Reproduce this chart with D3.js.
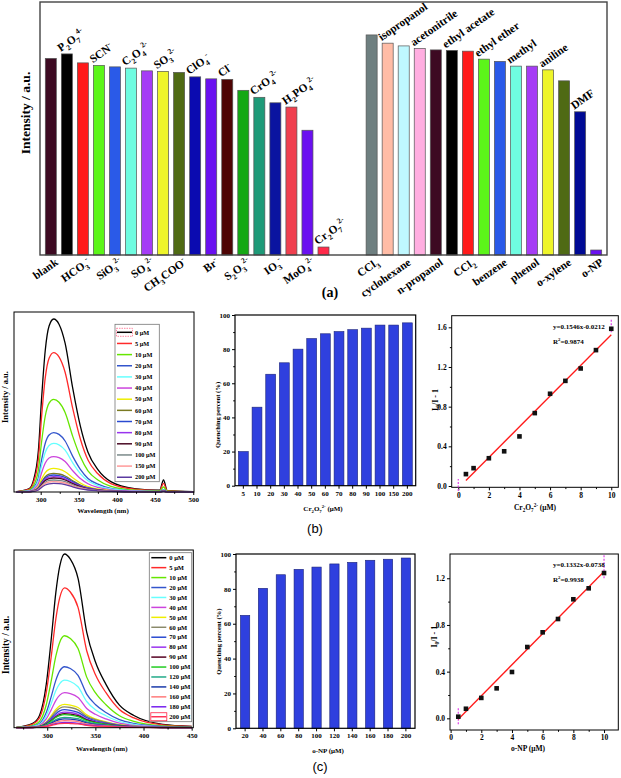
<!DOCTYPE html>
<html><head><meta charset="utf-8">
<script src="https://cdn.jsdelivr.net/npm/d3@7"></script>
<style>
body{margin:0;background:#fff}
svg{display:block}
</style>
</head><body>
<svg id="chart" width="621" height="778"></svg>
<script>
// ================= DATA =================
// (a) selectivity
const anionLabels = ["blank","P_{2}O_{7}^{4-}","HCO_{3}^{-}","SCN^{-}","SiO_{3}^{2-}","C_{2}O_{4}^{2-}","SO_{4}^{2-}","SO_{3}^{2-}","CH_{3}COO^{-}","ClO_{4}^{-}","Br^{-}","Cl^{-}","S_{2}O_{3}^{2-}","CrO_{4}^{2-}","IO_{3}^{-}","H_{2}PO_{4}^{2-}","MoO_{4}^{2-}","Cr_{2}O_{7}^{2-}"];
const anionValues = [788, 806, 770, 760, 754, 749, 738, 736, 732, 714, 706, 704, 660, 632, 610, 593, 500, 32];
const solventLabels = ["CCl_{3}","isopropanol","cyclohexane","acetonitrile","n-propanol","ethyl acetate","CCl_{2}","ethyl ether","benzene","methyl","phenol","aniline","o-xylene","DMF","o-NP"];
const solventValues = [882, 849, 838, 828, 822, 820, 817, 785, 776, 757, 757, 742, 698, 574, 20];

// (b) Cr2O7 2- titration
const specWlB = [268, 285, 290, 297, 301, 306, 311, 317, 324, 332, 342, 352, 362, 375, 392, 423, 456, 461, 466, 500];
const specLabelsB = ["0 μM","5 μM","10 μM","20 μM","30 μM","40 μM","50 μM","60 μM","70 μM","80 μM","90 μM","100 μM","150 μM","200 μM"];
const spectraB = [
  [2, 17, 52, 208, 458, 709, 830, 865, 839, 744, 519, 329, 199, 112, 52, 17, 9, 60, 7, 2],
  [1, 14, 42, 167, 369, 572, 669, 697, 676, 599, 418, 265, 160, 91, 42, 14, 7, 43, 6, 1],
  [1, 9, 28, 111, 245, 380, 444, 463, 449, 398, 278, 176, 106, 60, 28, 9, 5, 25, 4, 1],
  [1, 6, 18, 71, 157, 244, 285, 297, 288, 255, 178, 113, 68, 39, 18, 6, 3, 12, 2, 1],
  [0, 5, 15, 58, 129, 199, 233, 243, 236, 209, 146, 92, 56, 32, 15, 5, 2, 10, 2, 0],
  [0, 4, 11, 42, 94, 145, 170, 177, 172, 152, 106, 67, 41, 23, 11, 4, 2, 8, 1, 0],
  [0, 2, 7, 28, 63, 97, 113, 118, 114, 101, 71, 45, 27, 15, 7, 2, 1, 6, 1, 0],
  [0, 2, 6, 22, 49, 76, 89, 93, 90, 80, 56, 35, 21, 12, 6, 2, 1, 5, 1, 0],
  [0, 2, 5, 20, 45, 70, 82, 85, 82, 73, 51, 32, 20, 11, 5, 2, 1, 5, 1, 0],
  [0, 2, 5, 18, 41, 63, 74, 77, 75, 66, 46, 29, 18, 10, 5, 2, 1, 4, 1, 0],
  [0, 1, 4, 17, 37, 57, 67, 70, 68, 60, 42, 27, 16, 9, 4, 1, 1, 4, 1, 0],
  [0, 1, 4, 14, 32, 49, 58, 60, 58, 52, 36, 23, 14, 8, 4, 1, 1, 4, 0, 0],
  [0, 1, 3, 12, 28, 43, 50, 52, 50, 45, 31, 20, 12, 7, 3, 1, 1, 3, 0, 0],
  [0, 1, 3, 10, 23, 35, 41, 43, 42, 37, 26, 16, 10, 6, 3, 1, 0, 3, 0, 0]
];
const specTicksB = [300, 350, 400, 450, 500];
const quenchCatsB = ["5","10","20","30","40","50","60","70","80","90","100","150","200"];
const quenchValsB = [20, 46, 65.3, 72, 80, 86.2, 89, 90.3, 91.4, 92.3, 94.1, 94.1, 95.4];
const svConcB = [0.5, 1, 2, 3, 4, 5, 6, 7, 8, 9, 10];
const svValsB = [0.12, 0.18, 0.28, 0.35, 0.50, 0.735, 0.93, 1.06, 1.185, 1.37, 1.585];
const fitB = [0.1546, -0.0212];
const r2B = "0.9874";

// (c) o-NP titration
const specWlC = [268, 285, 292, 299, 304, 309, 313, 318, 324, 332, 341, 350, 361, 375, 390, 420, 450];
const specLabelsC = ["0 μM","5 μM","10 μM","20 μM","30 μM","40 μM","50 μM","60 μM","70 μM","80 μM","90 μM","100 μM","120 μM","140 μM","160 μM","180 μM","200 μM"];
const spectraC = [
  [2, 22, 61, 217, 435, 678, 808, 869, 843, 747, 478, 330, 217, 113, 61, 17, 7],
  [1, 18, 49, 175, 350, 546, 651, 700, 679, 602, 385, 266, 175, 91, 49, 14, 6],
  [1, 12, 32, 115, 230, 359, 428, 460, 446, 396, 253, 175, 115, 60, 32, 9, 4],
  [1, 8, 21, 76, 153, 238, 284, 305, 296, 262, 168, 116, 76, 40, 21, 6, 2],
  [0, 6, 17, 60, 119, 186, 221, 238, 231, 205, 131, 90, 60, 31, 17, 5, 2],
  [0, 4, 12, 44, 88, 137, 163, 175, 170, 151, 96, 67, 44, 23, 12, 4, 1],
  [0, 3, 8, 29, 59, 91, 109, 117, 113, 101, 64, 44, 29, 15, 8, 2, 1],
  [0, 3, 7, 26, 52, 81, 97, 104, 101, 89, 57, 40, 26, 14, 7, 2, 1],
  [0, 2, 6, 23, 45, 70, 84, 90, 87, 77, 50, 34, 23, 12, 6, 2, 1],
  [0, 2, 5, 20, 39, 61, 73, 78, 76, 67, 43, 30, 20, 10, 5, 2, 1],
  [0, 2, 5, 18, 35, 55, 65, 70, 68, 60, 39, 27, 18, 9, 5, 1, 1],
  [0, 2, 5, 16, 33, 51, 60, 65, 63, 56, 36, 25, 16, 8, 5, 1, 1],
  [0, 1, 4, 13, 26, 41, 48, 52, 50, 45, 29, 20, 13, 7, 4, 1, 0],
  [0, 1, 3, 11, 22, 34, 41, 44, 43, 38, 24, 17, 11, 6, 3, 1, 0],
  [0, 1, 2, 9, 18, 27, 33, 35, 34, 30, 19, 13, 9, 5, 2, 1, 0],
  [0, 1, 2, 7, 13, 20, 24, 26, 25, 22, 14, 10, 7, 3, 2, 1, 0],
  [0, 1, 2, 6, 11, 17, 20, 22, 21, 19, 12, 8, 6, 3, 2, 0, 0]
];
const specTicksC = [300, 350, 400, 450];
const quenchCatsC = ["20","40","60","80","100","120","140","160","180","200"];
const quenchValsC = [64.8, 80.3, 88.1, 91.2, 92.5, 94.3, 95.2, 96.4, 97, 97.7];
const svConcC = [0.5, 1, 2, 3, 4, 5, 6, 7, 8, 9, 10];
const svValsC = [0.014, 0.082, 0.175, 0.257, 0.397, 0.611, 0.737, 0.851, 1.02, 1.114, 1.245];
const fitC = [0.1332, -0.0738];
const r2C = "0.9938";

// ================= STYLES =================
const anionColors = ["#3d0a22","#000000","#ff1a1a","#5cf51a","#2a5ae8","#6ffce0","#a53cf5","#eef52a","#4f6a14","#0a0ab0","#6a10f0","#4e0404","#14a814","#1e9a78","#0a14a0","#f0404f","#6a10f0","#ff2a4a"];
const solventColors = ["#6e7f80","#ffbca6","#bff8ff","#ffaee0","#3d0a22","#000000","#ff1a1a","#5cf51a","#2a5ae8","#6ffce0","#a53cf5","#eef52a","#4f6a14","#000a94","#6a10f0"];
const colorsB = ["#000000","#ff2a2a","#66e600","#3355cc","#66ffff","#cc44dd","#eeee00","#7a7a22","#2a4ad0","#9933ee","#4a0a24","#7a8a8a","#ff9a9a","#5a3aa0"];
const colorsC = ["#000000","#ff2a2a","#66e600","#3355cc","#66ffff","#cc44dd","#eeee00","#8a8a6a","#2a4ad0","#9933ee","#550022","#22cc22","#22aa88","#1a3aaa","#ff7a7a","#7722ee","#ff3355"];

const FONT = "'Liberation Serif','Times New Roman',serif";
const svg = d3.select("#chart");

function rich(t, str, size){
  const re = /([_^])\{([^}]*)\}|([^_^]+)/g;
  let m, off = 0;
  while ((m = re.exec(str))) {
    let target, content, fs;
    if (m[1] === "_") { target = 0.3*size; content = m[2]; fs = size*0.68; }
    else if (m[1] === "^") { target = -0.42*size; content = m[2]; fs = size*0.68; }
    else { target = 0; content = m[3]; fs = size; }
    t.append("tspan").attr("dy", (target - off).toFixed(2)).attr("font-size", fs).text(content);
    off = target;
  }
  return t;
}
function label(g, x, y, str, size, opts = {}){
  const t = g.append("text")
    .attr("transform", `translate(${x},${y})` + (opts.rot ? ` rotate(${opts.rot})` : ""))
    .attr("font-family", opts.family || FONT)
    .attr("font-weight", opts.weight || "bold")
    .attr("font-size", size)
    .attr("text-anchor", opts.anchor || "middle")
    .attr("fill", "#000");
  rich(t, str, size);
  return t;
}
function styleAxis(g, fs){
  g.select(".domain").remove();
  g.selectAll("line").attr("stroke", "#000");
  g.selectAll("text").attr("font-family", FONT).attr("font-weight", "bold").attr("font-size", fs).attr("fill", "#000");
}
function frame(g, x0, y0, x1, y1, color = "#000", w = 1){
  g.append("rect").attr("x", x0).attr("y", y0).attr("width", x1 - x0).attr("height", y1 - y0)
    .attr("fill", "none").attr("stroke", color).attr("stroke-width", w);
}

// ================= PANEL (a) =================
(function(){
  const g = svg.append("g");
  const X0 = 40, X1 = 607, Y0 = 2, Y1 = 255;
  const items = [];
  anionLabels.forEach((l, i) => items.push({key: "a" + i, label: l, value: anionValues[i], color: anionColors[i], above: i % 2 === 1}));
  const gapKeys = ["gap0", "gap1"];
  solventLabels.forEach((l, i) => items.push({key: "s" + i, label: l, value: solventValues[i], color: solventColors[i], above: i % 2 === 1}));
  const domain = items.slice(0, anionLabels.length).map(d => d.key).concat(gapKeys, items.slice(anionLabels.length).map(d => d.key));
  const x = d3.scaleBand().domain(domain).range([X0, X1]).paddingInner(0.3125).paddingOuter(0.33);
  const y = d3.scaleLinear().domain([0, 1014]).range([Y1, Y0]);

  g.selectAll("rect.bar").data(items).join("rect").attr("class", "bar")
    .attr("x", d => x(d.key)).attr("width", x.bandwidth())
    .attr("y", d => y(d.value)).attr("height", d => y(0) - y(d.value))
    .attr("fill", d => d.color).attr("stroke", "#555").attr("stroke-width", 0.7);

  frame(g, X0, Y0, X1, Y1, "#444", 1.4);

  items.forEach(d => {
    if (d.above) {
      label(g, x(d.key) - 0.5, y(d.value) - 2, d.label, 11.3, {anchor: "start", rot: -35});
    } else {
      label(g, x(d.key) + x.bandwidth()/2 + 8, Y1 + 9, d.label, 11.3, {anchor: "end", rot: -35});
    }
  });
  label(g, 30, 113, "Intensity / a.u.", 13.5, {rot: -90});
  label(g, 330, 297, "(a)", 14);
})();

// ================= SPECTRUM PANELS =================
function spectrum(o){
  const g = svg.append("g");
  const x = d3.scaleLinear().domain(o.xDom).range([o.x0, o.x1]);
  const y = d3.scaleLinear().domain(o.yDom).range([o.y1, o.y0]);
  const line = d3.line().x((d, i) => x(o.wl[i])).y(d => y(d)).curve(d3.curveMonotoneX);
  g.selectAll("path.sp").data(o.series).join("path").attr("class", "sp")
    .attr("d", line).attr("fill", "none")
    .attr("stroke", (d, i) => o.colors[i]).attr("stroke-width", 1.3);
  frame(g, o.x0, o.y0, o.x1, o.y1);
  const minor = o.ticks.map(t => t - 25).filter(t => t > o.xDom[0]);
  g.append("g").attr("transform", `translate(0,${o.y1})`)
    .call(d3.axisBottom(x).tickValues(o.ticks).tickSize(3).tickPadding(2).tickFormat(d3.format("d")))
    .call(styleAxis, 7);
  g.append("g").attr("transform", `translate(0,${o.y1})`)
    .call(d3.axisBottom(x).tickValues(minor).tickSize(1.8).tickFormat(""))
    .call(styleAxis, 7);
  label(g, o.xTitle[0], o.xTitle[1], "Wavelength (nm)", 7);
  label(g, o.yTitle[0], o.yTitle[1], "Intensity / a.u.", o.yTitleSize, {rot: -90});
  // legend
  const L = o.legend;
  g.append("rect").attr("x", L.x0).attr("y", L.y0).attr("width", L.x1 - L.x0).attr("height", L.y1 - L.y0)
    .attr("fill", "#fff").attr("stroke", "#777").attr("stroke-width", 0.8);
  o.labels.forEach((lab, i) => {
    const yy = L.first + i * L.step;
    g.append("line").attr("x1", L.x0 + 2).attr("x2", L.x0 + 17).attr("y1", yy).attr("y2", yy)
      .attr("stroke", o.colors[i]).attr("stroke-width", 1.5);
    g.append("text").attr("x", L.x0 + 20).attr("y", yy + L.fs * 0.35)
      .attr("font-family", FONT).attr("font-weight", "bold").attr("font-size", L.fs).text(lab);
  });
  if (L.mark != null) {
    const yy = L.first + L.mark * L.step;
    g.append("rect").attr("x", L.x0 + 1.5).attr("y", yy - 4).attr("width", 16).attr("height", 8)
      .attr("fill", "none").attr("stroke", L.markColor).attr("stroke-width", 0.8).attr("stroke-dasharray", L.markDash);
  }
}

spectrum({
  wl: specWlB, series: spectraB, colors: colorsB, labels: specLabelsB,
  xDom: [265, 501], yDom: [0, 900], x0: 14, x1: 194, y0: 312, y1: 492,
  ticks: specTicksB, xTitle: [103, 513], yTitle: [8, 397], yTitleSize: 8.5,
  legend: {x0: 115, x1: 159.3, y0: 324.3, y1: 481.7, first: 332.3, step: 11.15, fs: 6.3, mark: 0, markColor: "#ff6688", markDash: "1.5,1"}
});
spectrum({
  wl: specWlC, series: spectraC, colors: colorsC, labels: specLabelsC,
  xDom: [265.5, 451.7], yDom: [0, 889], x0: 14, x1: 193.3, y0: 550, y1: 727.7,
  ticks: specTicksC, xTitle: [101.7, 751], yTitle: [8.5, 645], yTitleSize: 9.5,
  legend: {x0: 149.3, x1: 191.7, y0: 552.7, y1: 721.7, first: 557.7, step: 9.94, fs: 6.5, mark: 16, markColor: "#ff2244", markDash: null}
});

// ================= QUENCHING BAR PANELS =================
function quench(o){
  const g = svg.append("g");
  const x = d3.scaleBand().domain(o.cats).range([o.x0, o.x1]).paddingInner(o.pi).paddingOuter(o.po);
  const y = d3.scaleLinear().domain([0, 100]).range([o.y1, o.y0]);
  g.selectAll("rect.q").data(o.vals).join("rect").attr("class", "q")
    .attr("x", (d, i) => x(o.cats[i])).attr("width", x.bandwidth())
    .attr("y", d => y(d)).attr("height", d => y(0) - y(d))
    .attr("fill", "#2f40de").attr("stroke", "#1a2278").attr("stroke-width", 0.6);
  frame(g, o.x0, o.y0, o.x1, o.y1, "#000", 1.2);
  g.append("g").attr("transform", `translate(${o.x0},0)`)
    .call(d3.axisLeft(y).tickValues([0, 20, 40, 60, 80, 100]).tickSize(3).tickPadding(2))
    .call(styleAxis, 7);
  g.append("g").attr("transform", `translate(${o.x0},0)`)
    .call(d3.axisLeft(y).tickValues([10, 30, 50, 70, 90]).tickSize(1.8).tickFormat(""))
    .call(styleAxis, 7);
  g.append("g").attr("transform", `translate(0,${o.y1})`)
    .call(d3.axisBottom(x).tickSize(3).tickPadding(2))
    .call(styleAxis, 7);
  label(g, o.xTitle[0], o.xTitle[1], o.xTitleText, 7);
  label(g, o.yTitle[0], o.yTitle[1], "Quenching percent (%)", 6.6, {rot: -90});
  label(g, o.tag[0], o.tag[1], o.tag[2], 13, {family: "'Liberation Sans',Arial,sans-serif", weight: "normal"});
}
quench({cats: quenchCatsB, vals: quenchValsB, x0: 235, x1: 415.7, y0: 315, y1: 485.7, pi: 0.28, po: 0.25,
  xTitle: [323, 511], xTitleText: "Cr_{2}O_{7}^{2-} (μM)", yTitle: [219.5, 415], tag: [315, 532.5, "(b)"]});
quench({cats: quenchCatsC, vals: quenchValsC, x0: 236, x1: 415, y0: 554, y1: 728.3, pi: 0.48, po: 0.25,
  xTitle: [328, 752.5], xTitleText: "o-NP (μM)", yTitle: [221, 641.7], tag: [320, 771, "(c)"]});

// ================= STERN-VOLMER PANELS =================
function sv(o){
  const g = svg.append("g");
  const x = d3.scaleLinear().domain(o.xDom).range([o.x0, o.x1]);
  const y = d3.scaleLinear().domain(o.yDom).range([o.y1, o.y0]);
  frame(g, o.x0, o.y0, o.x1, o.y1);
  g.append("g").attr("transform", `translate(0,${o.y1})`)
    .call(d3.axisBottom(x).tickValues([0, 2, 4, 6, 8, 10]).tickSize(3).tickPadding(2))
    .call(styleAxis, 7.5);
  g.append("g").attr("transform", `translate(0,${o.y1})`)
    .call(d3.axisBottom(x).tickValues([1, 3, 5, 7, 9]).tickSize(1.8).tickFormat(""))
    .call(styleAxis, 7.5);
  g.append("g").attr("transform", `translate(${o.x0},0)`)
    .call(d3.axisLeft(y).tickValues(o.yTicks).tickSize(3).tickPadding(2).tickFormat(d3.format(".1f")))
    .call(styleAxis, 7.5);
  g.append("g").attr("transform", `translate(${o.x0},0)`)
    .call(d3.axisLeft(y).tickValues(o.yMinor).tickSize(1.8).tickFormat(""))
    .call(styleAxis, 7.5);
  // selection markers (magenta)
  o.markers.forEach(m => {
    g.append("line").attr("x1", x(m[0])).attr("x2", x(m[0])).attr("y1", y(m[1])).attr("y2", y(m[2]))
      .attr("stroke", "#e040e8").attr("stroke-width", 1.2).attr("stroke-dasharray", "2,1.5");
  });
  // fit line
  const ext = d3.extent(o.conc);
  g.append("line").attr("x1", x(ext[0])).attr("y1", y(o.fit[0]*ext[0] + o.fit[1]))
    .attr("x2", x(ext[1])).attr("y2", y(o.fit[0]*ext[1] + o.fit[1]))
    .attr("stroke", "#ff1a1a").attr("stroke-width", 1.3);
  g.selectAll("rect.pt").data(o.vals).join("rect").attr("class", "pt")
    .attr("x", (d, i) => x(o.conc[i]) - 2.3).attr("y", d => y(d) - 2.3)
    .attr("width", 4.6).attr("height", 4.6).attr("fill", "#111");
  label(g, o.eq[0], o.eq[1], `y=${o.fit[0]}x${o.fit[1] < 0 ? "-" : "+"}${Math.abs(o.fit[1]).toFixed(4)}`, 7, {anchor: "start"});
  label(g, o.eq[0], o.eq[1] + 14.5, `R^{2}=${o.r2}`, 7, {anchor: "start"});
  label(g, o.yTitle[0], o.yTitle[1], "I_{0}/I - 1", 8, {rot: -90});
  label(g, o.xTitle[0], o.xTitle[1], o.xTitleText, 7.5);
}
sv({conc: svConcB, vals: svValsB, fit: fitB, r2: r2B,
  xDom: [-0.43, 10.46], yDom: [-0.013, 1.717], x0: 451.7, x1: 618.3, y0: 315.7, y1: 487.3,
  yTicks: [0, 0.4, 0.8, 1.2, 1.6], yMinor: [0.2, 0.6, 1.0, 1.4],
  markers: [[0, -0.05, 0.07], [10, 1.55, 1.68]],
  eq: [553, 329], yTitle: [438, 400], xTitle: [535, 510], xTitleText: "Cr_{2}O_{7}^{2-} (μM)"});
sv({conc: svConcC, vals: svValsC, fit: fitC, r2: r2C,
  xDom: [-0.04, 10.93], yDom: [-0.1, 1.408], x0: 450, x1: 618.3, y0: 554, y1: 730,
  yTicks: [0, 0.4, 0.8, 1.2], yMinor: [0.2, 0.6, 1.0],
  markers: [[0.5, -0.05, 0.086], [10, 1.2, 1.4]],
  eq: [553, 567], yTitle: [437, 636.7], xTitle: [528, 751], xTitleText: "o-NP (μM)"});
</script>
</body></html>
